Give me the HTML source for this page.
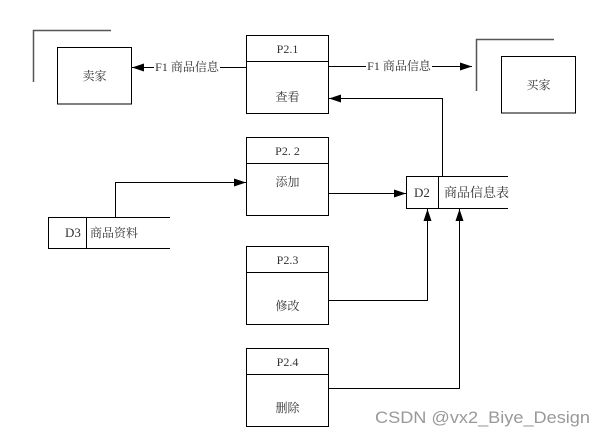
<!DOCTYPE html>
<html><head><meta charset="utf-8"><style>
html,body{margin:0;padding:0;background:#fff;width:606px;height:436px;overflow:hidden}
svg text{font-family:"Liberation Serif","Noto Serif CJK SC",serif;font-size:12px;fill:#333}
</style></head><body>
<svg width="606" height="436" viewBox="0 0 606 436" xmlns="http://www.w3.org/2000/svg">
<defs><marker id="a" markerWidth="12" markerHeight="8" refX="12" refY="4" orient="auto" markerUnits="userSpaceOnUse"><path d="M0,0 L12,4 L0,8 Z" fill="#000"/></marker></defs>
<g fill="none" stroke="#000" stroke-width="1">
<path d="M33.5,82 V30.5 H111" stroke="#555" stroke-width="1.5"/>
<rect x="57.5" y="47.5" width="74" height="56.5"/>
<path d="M476.5,91 V39.5 H554" stroke="#555" stroke-width="1.5"/>
<rect x="501.5" y="56.5" width="74" height="56.5"/>
<rect x="246.5" y="35.5" width="82" height="78"/><line x1="246.5" y1="61.5" x2="328.5" y2="61.5"/>
<rect x="246.5" y="137.5" width="82" height="78"/><line x1="246.5" y1="163.5" x2="328.5" y2="163.5"/>
<rect x="246.5" y="246.5" width="82" height="78"/><line x1="246.5" y1="272.5" x2="328.5" y2="272.5"/>
<rect x="246.5" y="348.5" width="82" height="78"/><line x1="246.5" y1="374.5" x2="328.5" y2="374.5"/>
<path d="M508,176.5 H406.5 V208.5 H508"/><line x1="438.5" y1="176.5" x2="438.5" y2="208.5"/>
<path d="M170,217.5 H48.5 V248.5 H170"/><line x1="86.5" y1="217.5" x2="86.5" y2="248.5"/>
<path d="M246,67.5 H220"/><path d="M154,67.5 H132" marker-end="url(#a)"/>
<path d="M329,66.5 H366"/><path d="M432,66.5 H472" marker-end="url(#a)"/>
<path d="M442.5,176 V98.5 H329" marker-end="url(#a)"/>
<path d="M115.5,217 V182.5 H246" marker-end="url(#a)"/>
<path d="M329,193.5 H406" marker-end="url(#a)"/>
<path d="M329,300.5 H427.5 V209" marker-end="url(#a)"/>
<path d="M329,388.5 H459.5 V209" marker-end="url(#a)"/>
</g>
<g text-anchor="middle">
<text x="287.5" y="53">P2.1</text><text x="287.5" y="101">查看</text>
<text x="287.5" y="155">P2. 2</text><text x="287.5" y="186">添加</text>
<text x="287.5" y="264">P2.3</text><text x="287.5" y="310">修改</text>
<text x="287.5" y="366">P2.4</text><text x="287.5" y="412">删除</text>
<text x="94.5" y="80">卖家</text><text x="538.5" y="89">买家</text>
<text x="187" y="71">F1 商品信息</text><text x="399" y="70">F1 商品信息</text>
</g>
<text x="414" y="197" style="font-size:13px">D2</text><text x="444" y="197" style="font-size:13px">商品信息表</text>
<text x="65" y="237" style="font-size:13px">D3</text><text x="90" y="237">商品资料</text>
<text x="375" y="423" textLength="215" lengthAdjust="spacingAndGlyphs" style="font-family:'Liberation Sans',sans-serif;font-size:17px;fill:#999">CSDN @vx2_Biye_Design</text>
</svg>
</body></html>
